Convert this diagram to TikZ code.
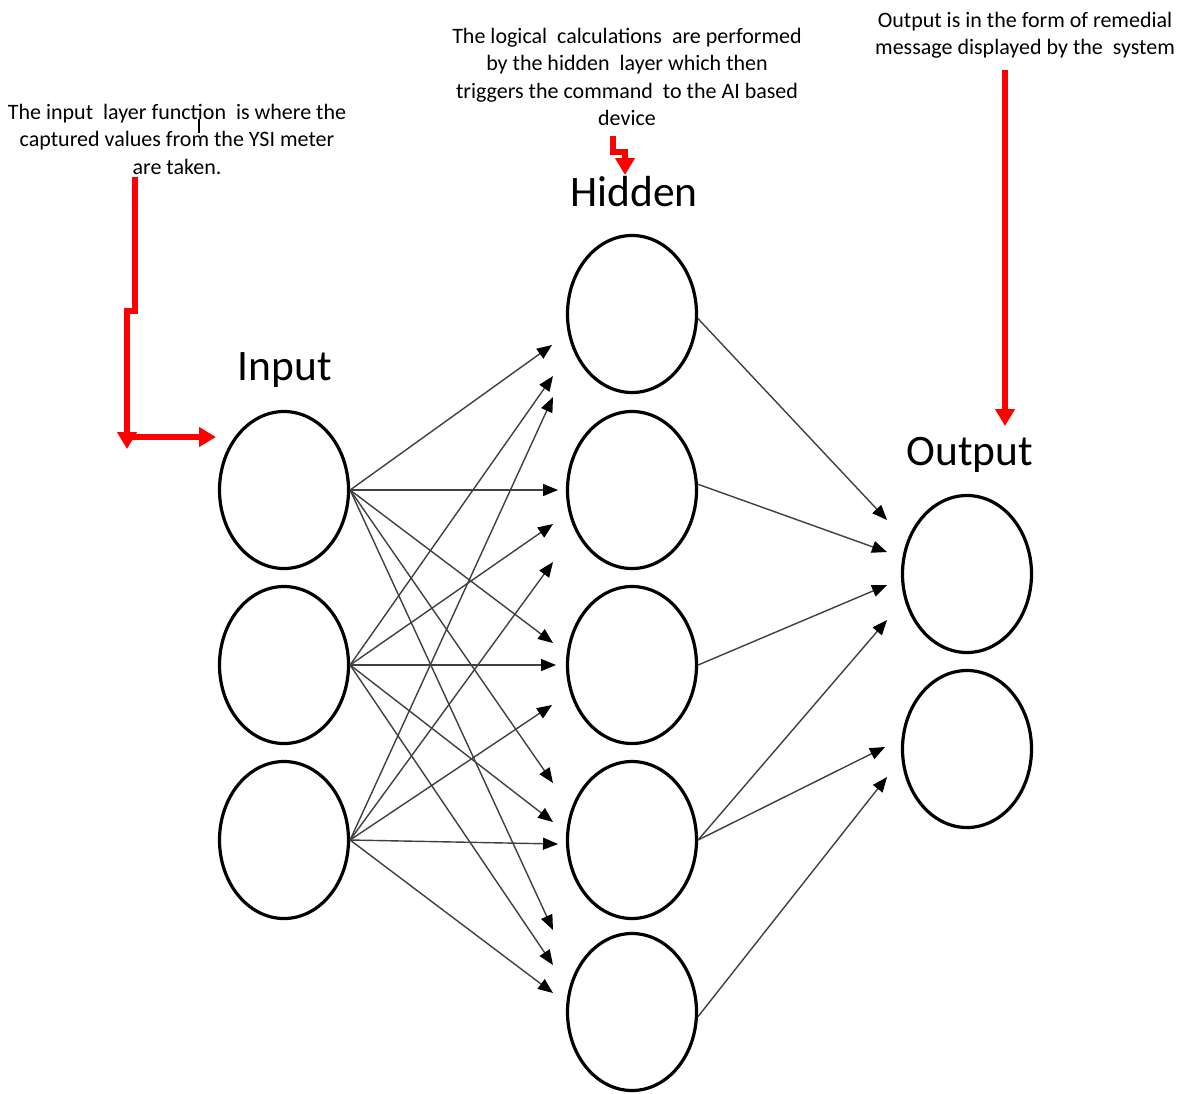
\documentclass[tikz,border=0pt]{standalone}
\usepackage{fontspec}
\setmainfont{Carlito}
\usetikzlibrary{shapes.geometric,arrows.meta}
\begin{document}
\begin{tikzpicture}[x=1pt,y=-1pt,
  neuron/.style={ellipse,draw=black,line width=3.2pt,minimum width=129pt,minimum height=157pt,inner sep=0pt},
  conn/.style={draw=black!75,line width=1.4pt,-{Triangle[length=15pt,width=12pt,color=black]}},
  redline/.style={draw=red,line width=5.5pt,line join=miter},
  redtip/.style={-{Triangle[length=17pt,width=19pt]}},
  layerlabel/.style={font=\fontsize{43.5}{50}\selectfont,anchor=base,inner sep=0pt},
  note/.style={font=\fontsize{22}{27.5}\selectfont,align=center,inner sep=0pt,text=black}]
\fill[white] (0,0) rectangle (1182,1093);
\useasboundingbox (0,0) rectangle (1182,1093);

% neurons
\node[neuron] (I1) at (284,490) {};
\node[neuron] (I2) at (284,665) {};
\node[neuron] (I3) at (284,840) {};
\node[neuron] (H1) at (632,314) {};
\node[neuron] (H2) at (632,490) {};
\node[neuron] (H3) at (632,665) {};
\node[neuron] (H4) at (632,840) {};
\node[neuron] (H5) at (632,1012) {};
\node[neuron] (O1) at (967,574) {};
\node[neuron] (O2) at (967,749) {};

% layer labels
\node[layerlabel] (linput) at (285,380) {Input};
\node[layerlabel] (lhidden) at (634,206) {Hidden};
\node[layerlabel] (loutput) at (970,465) {Output};

% arrow tip points
\coordinate (a11) at (552,345);
\coordinate (a12) at (558,490);
\coordinate (a13) at (553,643);
\coordinate (a14) at (553,783);
\coordinate (a15) at (553,930);
\coordinate (a21) at (553,376);
\coordinate (a22) at (553,524);
\coordinate (a23) at (556,665);
\coordinate (a24) at (553,822);
\coordinate (a25) at (553,965);
\coordinate (a31) at (553,397);
\coordinate (a32) at (553,562);
\coordinate (a33) at (552,705);
\coordinate (a34) at (558,844);
\coordinate (a35) at (553,993);
\coordinate (b1) at (887,520);
\coordinate (b2) at (887,552);
\coordinate (b3) at (887,585);
\coordinate (b4) at (887,620);
\coordinate (b5) at (885,747);
\coordinate (b6) at (887,777);

% input -> hidden
\foreach \j in {1,...,5} {
  \draw[conn] (I1.east) -- (a1\j);
  \draw[conn] (I2.east) -- (a2\j);
  \draw[conn] (I3.east) -- (a3\j);
}
% hidden -> output
\draw[conn] (H1.-4) -- (b1);
\draw[conn] (H2.5) -- (b2);
\draw[conn] (H3.east) -- (b3);
\draw[conn] (H4.east) -- (b4);
\draw[conn] (H4.east) -- (b5);
\draw[conn] (H5.-4) -- (b6);

% notes
\node[note] (t1) at (177,139) {The input~ layer function~ is where the\\captured values from the YSI meter\\are taken.};
\node[note] (t2) at (627,77) {The logical~ calculations~ are performed\\by the hidden~ layer which then\\triggers the command~ to the AI based\\device};
\node[note] (t3) at (1025,35) {Output is in the form of remedial\\message displayed by the~ system};

% text cursor mark
\draw[line width=1.6pt] (199,119) -- (199,133);

% red pointers
\coordinate (r1a) at (135,177);
\coordinate (r1b) at (135,311);
\coordinate (r1c) at (127,311);
\coordinate (r1d) at (127,449);
\coordinate (r1f) at (127,437);
\coordinate (r1e) at (216,437);
\draw[redline,redtip] (r1a) -- (r1b) -- (r1c) -- (r1d);
\draw[redline,redtip] (r1f) -- (r1e);

\coordinate (r2a) at (613,136);
\coordinate (r2b) at (613,152);
\coordinate (r2c) at (625,152);
\coordinate (r2d) at (625,175);
\draw[redline,redtip] (r2a) -- (r2b) -- (r2c) -- (r2d);

\coordinate (r3a) at (1005,70);
\coordinate (r3b) at (1005,426);
\draw[redline,redtip] (r3a) -- (r3b);
\end{tikzpicture}
\end{document}
